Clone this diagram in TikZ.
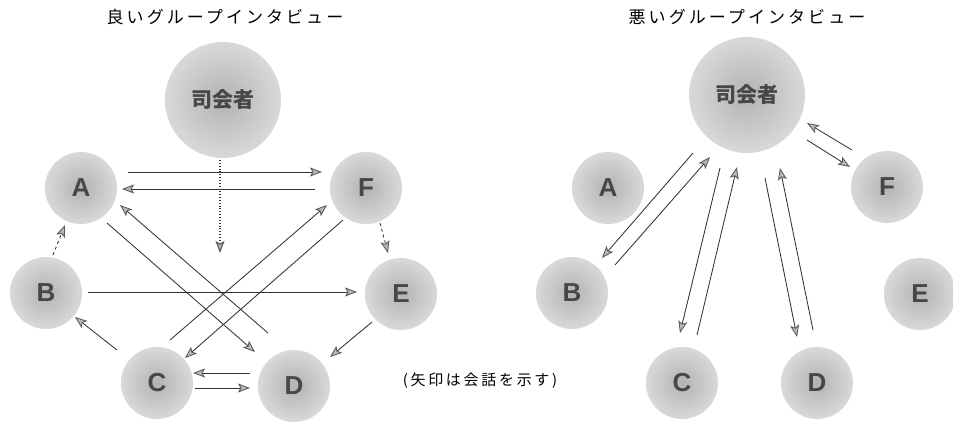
\documentclass[tikz,border=0pt]{standalone}
\usepackage{fontspec}
\setmainfont{Liberation Sans}
\newfontfamily\cjk[LetterSpace=18]{Noto Sans CJK JP}
\newfontfamily\cjkplain{Noto Sans CJK JP}
\usetikzlibrary{calc,arrows.meta}
\begin{document}
\begin{tikzpicture}[x=1pt,y=-1pt,
  person/.style={circle,minimum size=72pt,inner sep=0pt,shading=radial,inner color=gray!60,outer color=gray!30,
    font=\bfseries\fontsize{26}{26}\selectfont,text=black!72},
  host/.style={person,minimum size=116pt,font=\cjkplain\bfseries\fontsize{21}{21}\selectfont},
  conv/.style={draw=black!80,line width=0.85pt,-{Stealth[length=12pt,width=9pt,inset=2.5pt,color=black!65,fill=gray!55]}},
  title/.style={font=\cjk\fontsize{17}{17}\selectfont,text=black}]
\useasboundingbox (0,0) rectangle (953,421);
% left panel
\node[title] (t1) at (225,17) {良いグループインタビュー};
\node[host] (M1) at (223,100) {司会者};
\node[person] (A) at (81,188) {A};
\node[person] (F) at (366,188) {F};
\node[person] (B) at (46,293) {B};
\node[person] (E) at (401,294) {E};
\node[person] (C) at (157,383) {C};
\node[person] (D) at (294,386) {D};
\coordinate (m1end) at ($(M1)+(-3,153)$);
\draw[conv] ($(A)+(47,-16)$) -- ($(F)+(-44,-16)$);
\draw[conv] ($(F)+(-51,1)$) -- ($(A)+(41,1)$);
\draw[conv,dotted,line width=1.1pt] ($(M1)+(-3,60)$) -- (m1end);
\draw[conv,dashed] ($(B)+(7,-38)$) -- ($(A)+(-16,37)$);
\draw[conv] ($(C)+(-40,-33)$) -- ($(B)+(29,24)$);
\draw[conv,dashed] ($(F)+(14,35)$) -- ($(E)+(-13,-41)$);
\draw[conv] ($(E)+(-29,28)$) -- ($(D)+(36,-29)$);
\draw[conv] ($(B)+(42,-1)$) -- ($(E)+(-44,-2)$);
\draw[conv] ($(D)+(-44,-13)$) -- ($(C)+(36,-10)$);
\draw[conv] ($(C)+(38,5)$) -- ($(D)+(-44,2)$);
\draw[conv] ($(A)+(26,35)$) -- ($(D)+(-39,-34)$);
\draw[conv] ($(D)+(-26,-53)$) -- ($(A)+(39,17)$);
\draw[conv] ($(C)+(13,-43)$) -- ($(F)+(-39,17)$);
\draw[conv] ($(F)+(-23,32)$) -- ($(C)+(28,-25)$);
% note
\node[font=\cjk\fontsize{15}{15}\selectfont] (note) at (480,381) {(矢印は会話を示す)};
% right panel
\node[title] (t2) at (747,17) {悪いグループインタビュー};
\node[host] (M2) at (747,95) {司会者};
\node[person] (A2) at (608,188) {A};
\node[person] (F2) at (887,187) {F};
\node[person] (B2) at (572,293) {B};
\node[person] (E2) at (920,294) {E};
\node[person] (C2) at (682,383) {C};
\node[person] (D2) at (817,383) {D};
\draw[conv] ($(M2)+(-54,58)$) -- ($(B2)+(30,-35)$);
\draw[conv] ($(B2)+(43,-28)$) -- ($(M2)+(-37,62)$);
\draw[conv] ($(M2)+(-27,73)$) -- ($(C2)+(-2,-50)$);
\draw[conv] ($(C2)+(15,-48)$) -- ($(M2)+(-10,72)$);
\draw[conv] ($(M2)+(18,83)$) -- ($(D2)+(-20,-46)$);
\draw[conv] ($(D2)+(-4,-53)$) -- ($(M2)+(33,73)$);
\draw[conv] ($(F2)+(-35,-37)$) -- ($(M2)+(60,28)$);
\draw[conv] ($(M2)+(60,45)$) -- ($(F2)+(-37,-20)$);
\end{tikzpicture}
\end{document}
